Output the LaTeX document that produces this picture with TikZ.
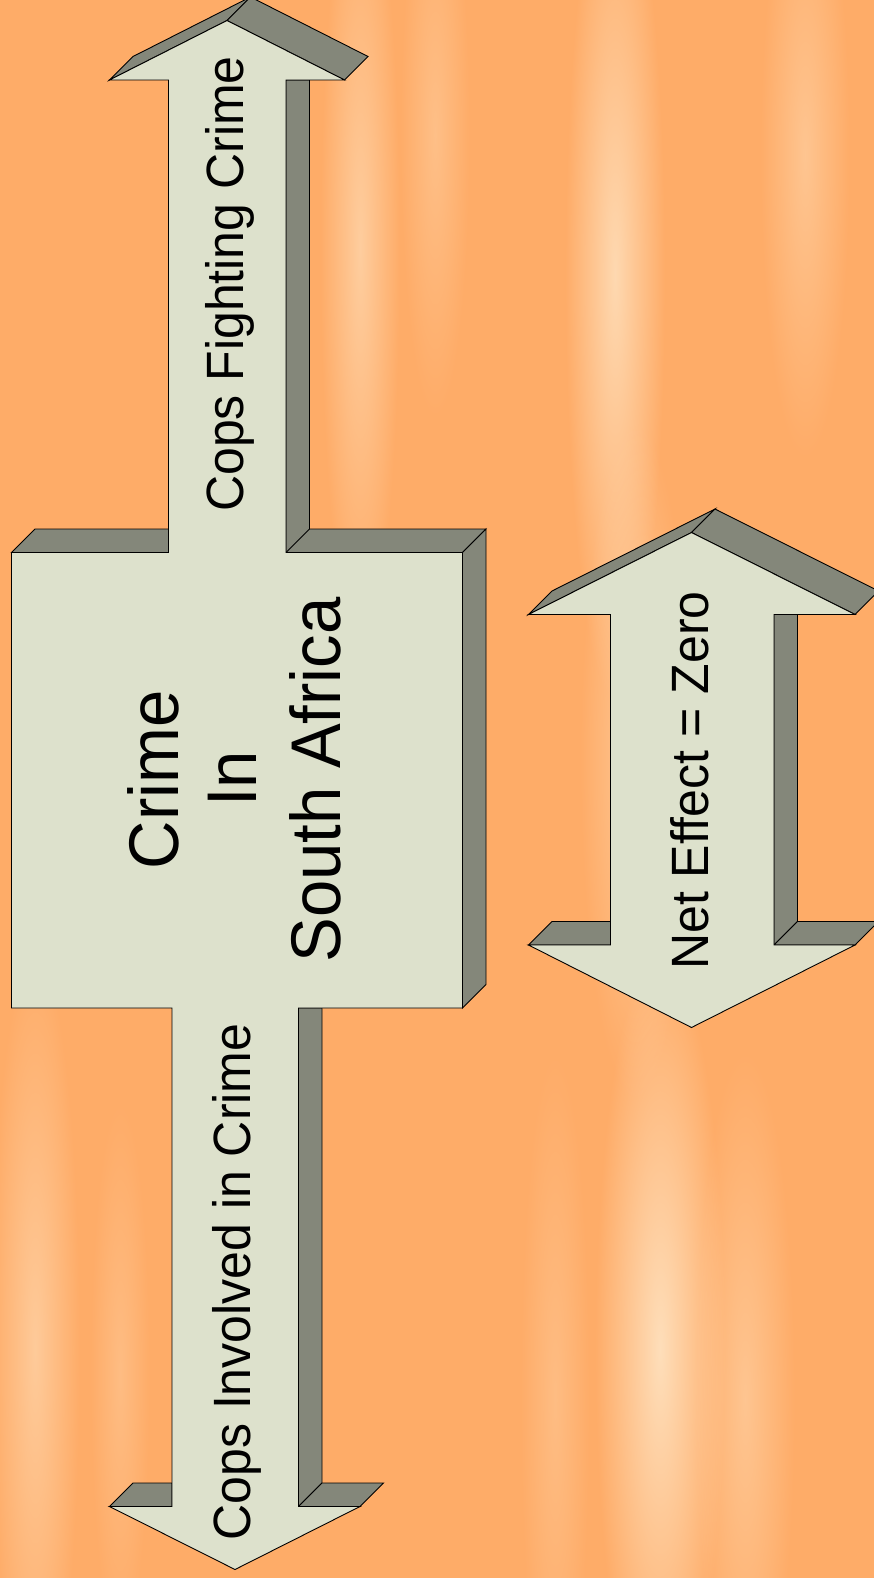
\documentclass[tikz,border=0pt]{standalone}
\usepackage{fontspec}
\setmainfont{Liberation Sans}
\usetikzlibrary{fadings}
\definecolor{bgor}{RGB}{254,172,104}
\definecolor{streakc}{RGB}{255,228,195}
\definecolor{facec}{RGB}{221,225,204}
\definecolor{sidec}{RGB}{132,135,122}
\tikzfading[name=softblob, inner color=transparent!0, outer color=transparent!100]
\begin{document}
\begin{tikzpicture}[x=1pt,y=-1pt, line join=miter,
  front/.style={fill=facec, draw=black, line width=0.9pt},
  side/.style={fill=sidec, draw=black, line width=0.9pt},
  smalltxt/.style={rotate=90, yscale=1.05, anchor=base, inner sep=0pt, font=\fontsize{50}{60}\selectfont},
  bigtxt/.style={rotate=90, yscale=1.05, anchor=base, inner sep=0pt, font=\fontsize{67}{80}\selectfont},
  blob/.style={fill=streakc, path fading=softblob, fit fading=true}]
\useasboundingbox (0,0) rectangle (874,1578);
% background
\fill[bgor] (0,0) rectangle (874,1578);
\begin{scope}
\clip (0,0) rectangle (874,1578);
\fill[blob, fill opacity=0.6] (320,-150) rectangle (400,650);
\fill[blob, fill opacity=0.35] (400,-150) rectangle (470,420);
\fill[blob, fill opacity=0.8] (565,-150) rectangle (665,700);
\fill[blob, fill opacity=0.5] (580,420) rectangle (690,1100);
\fill[blob, fill opacity=0.9] (595,950) rectangle (725,1750);
\fill[blob, fill opacity=0.45] (760,-150) rectangle (850,460);
\fill[blob, fill opacity=0.45] (695,1050) rectangle (795,1750);
\fill[blob, fill opacity=0.55] (-10,950) rectangle (80,1750);
\fill[blob, fill opacity=0.3] (520,1050) rectangle (590,1750);
\fill[blob, fill opacity=0.3] (90,1100) rectangle (150,1650);
\end{scope}
% main cross: back faces
\path[side] (11.5,552.5) -- (35,529) -- (486,529) -- (462.5,552.5) -- cycle;
\path[side] (462.5,552.5) -- (486,529) -- (486,984.5) -- (462.5,1008) -- cycle;
\path[side] (286,80) -- (309.5,80) -- (309.5,529) -- (286,552.5) -- cycle;
\path[side] (109.5,80) -- (227,20.5) -- (250.5,-3) -- (133,56.5) -- cycle;
\path[side] (227,20.5) -- (344.5,80) -- (368,56.5) -- (250.5,-3) -- cycle;
\path[side] (298.5,1008) -- (322,1008) -- (322,1483) -- (298.5,1506.5) -- cycle;
\path[side] (109.5,1506.5) -- (133,1483) -- (172,1483) -- (172,1506.5) -- cycle;
\path[side] (298.5,1506.5) -- (322,1483) -- (383.5,1483) -- (360,1506.5) -- cycle;
% main cross: front
\path[front] (227,20.5) -- (344.5,80) -- (286,80) -- (286,552.5) -- (462.5,552.5)
  -- (462.5,1008) -- (298.5,1008) -- (298.5,1506.5) -- (360,1506.5) -- (235,1569.5)
  -- (109.5,1506.5) -- (172,1506.5) -- (172,1008) -- (11.5,1008) -- (11.5,552.5)
  -- (168.5,552.5) -- (168.5,80) -- (109.5,80) -- cycle;
% right double arrow: back faces
\path[side] (528.5,614.5) -- (691.5,532.5) -- (715,509) -- (552,591) -- cycle;
\path[side] (691.5,532.5) -- (855,614.5) -- (878.5,591) -- (715,509) -- cycle;
\path[side] (774,614.5) -- (797.5,614.5) -- (797.5,921.5) -- (774,945) -- cycle;
\path[side] (528.5,945) -- (552,921.5) -- (610.5,921.5) -- (610.5,945) -- cycle;
\path[side] (774,945) -- (797.5,921.5) -- (878.5,921.5) -- (855,945) -- cycle;
% right double arrow: front
\path[front] (691.5,532.5) -- (855,614.5) -- (774,614.5) -- (774,945) -- (855,945)
  -- (691.5,1027.5) -- (528.5,945) -- (610.5,945) -- (610.5,614.5) -- (528.5,614.5) -- cycle;
% texts
\node[smalltxt] (fight) at (243,284) {Cops Fighting Crime};
\node[bigtxt] (crime) at (178,780) {Crime};
\node[bigtxt] (in) at (256.5,779) {In};
\node[bigtxt] (sa) at (340,780) {South Africa};
\node[smalltxt] (inv) at (250,1282) {Cops Involved in Crime};
\node[smalltxt] (net) at (708,780.5) {Net Effect = Zero};
\end{tikzpicture}
\end{document}
